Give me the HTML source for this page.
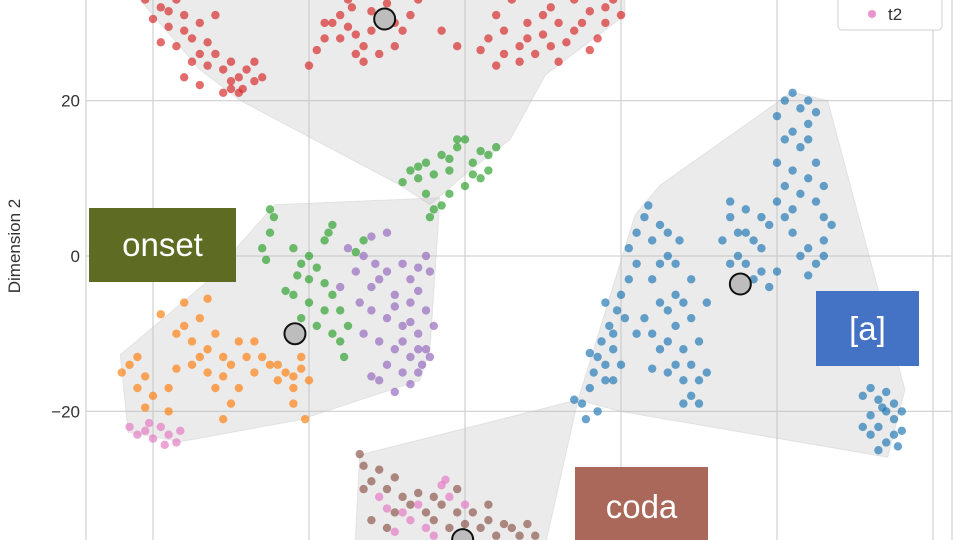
<!DOCTYPE html>
<html><head><meta charset="utf-8">
<style>
html,body{margin:0;padding:0;background:#fff;}
svg{display:block;font-family:"Liberation Sans",sans-serif;}
.box{position:absolute;color:#fff;font-family:"Liberation Sans",sans-serif;display:flex;align-items:center;justify-content:center;font-size:33px;}
</style></head>
<body>
<div style="position:relative;width:960px;height:540px;overflow:hidden">
<svg id="chart" width="960" height="540"></svg>
<div class="box" style="left:89px;top:208px;width:147px;height:74px;background:#5e6b22;">onset</div>
<div class="box" style="left:816px;top:291px;width:103px;height:75px;background:#4472c4;">[a]</div>
<div class="box" style="left:575px;top:467px;width:133px;height:80px;background:#a9685a;">coda</div>
</div>
<script>
const yTicks=[20,0,-20];
const yTickLabels=["20","0","\u221220"];
const xGrid=[-40,-20,0,20,40,60];
const red=[[-41,33],[-39,32],[-37,33],[-40,30.5],[-38,29.5],[-36,31],[-35,28],[-37,27],[-34,30],[-33,27.5],[-32,26],[-31,24],[-33,24.5],[-35,25],[-30,22.5],[-29,23],[-28,24],[-30,21.5],[-27,25],[-31,21],[-36,23],[-34,22],[-26,23],[-28.5,21.5],[-39,27.5],[-32,31],[-20,24.5],[-19,26.5],[-18,28],[-17,30],[-15,33],[-16,31],[-14,28.5],[-13,27],[-12,29],[-11,31],[-10,32.5],[-9,27],[-8,29],[-11,26],[-13,25],[-7,31],[-6,33],[-16,28],[-14.5,32],[2,26.5],[3,28],[4,31],[5,29],[6,33],[7,27],[8,30],[9,26],[10,28.5],[11,32],[12,30],[13,27.5],[14,33],[15,30],[16,31.5],[17,28],[18,32],[19,33],[20,31],[4,24.5],[7,25],[12,25],[-3,29],[-1,27],[-38,31.5],[-36,29],[-34,26],[-30,25],[-29,21],[-27,22.5],[-18,30],[-15,29.5],[-12,31.5],[-9,30],[-14,26],[5,26],[8,28],[11,27],[14,29],[16,26.5],[18,30],[10,31]];
const green=[[-7,11],[-6,10],[-5,12],[-4,10.5],[-3,13],[-2,11],[-1,14],[0,15],[1,12],[2,10],[3,13],[4,14],[-8,9.5],[-5,8],[-4,6],[-3,6.5],[-4.5,5],[-2,8],[0,9],[1,10.5],[3,11],[-1,15],[-25,6],[-24.5,5],[-25,3],[-26,1],[-25.5,-0.5],[-22,1],[-21,-1],[-21.5,-2.5],[-20,0],[-18,2],[-17,4],[-17.5,3],[-19,-1.5],[-22,-5],[-20,-6],[-18,-7],[-17,-5],[-19,-9],[-17,-10],[-16,-11],[-21,-8],[-15,-9],[-23,-4.5],[-14,0.5],[-13,2],[-15.5,-13],[-6,11.5],[-2,12.5],[2,13.5],[-20,-3],[-18,-3.5],[-16,-7]];
const purple=[[-15,1],[-13,0],[-12,2.5],[-11.5,-1],[-14,-2],[-12,-4],[-10,-2],[-8,-1],[-7,-3],[-6,-1.5],[-5,0],[-4.5,-2],[-9,-5],[-7,-6],[-5,-7],[-4,-9],[-6,-10],[-8,-9],[-10,-8],[-12,-7],[-13,-10],[-11,-11],[-9,-12],[-7,-13],[-5,-12],[-4.5,-13],[-6,-15],[-8,-15],[-10,-14],[-11,-16],[-12,-15.5],[-9,-17.5],[-7,-16.5],[-5.5,-14],[-13.5,-6],[-16,-4],[-10,3],[-7,-8.5],[-11,-3],[-9,-6.5],[-6,-4.5],[-8,-11],[-6,-12]];
const orange=[[-39,-7.5],[-37,-10],[-36,-9],[-34,-8],[-35,-11],[-33,-12],[-32,-10],[-31,-13],[-30,-14],[-29,-11],[-28,-13],[-27,-15],[-26,-13],[-25,-14],[-33,-15],[-35,-14],[-37,-14.5],[-42,-13],[-43,-14],[-44,-15],[-41,-15.5],[-42,-17],[-40,-18],[-41,-19.5],[-38,-20],[-38,-17],[-32,-17],[-30,-19],[-31,-21],[-29,-17],[-27,-11],[-24,-16],[-23,-15],[-22,-17],[-21,-14.5],[-20,-16],[-22,-19],[-21,-13],[-33,-5.5],[-36,-6],[-20.5,-21],[-34,-13],[-31,-15.5],[-24,-14],[-22,-15.5]];
const pink=[[-43,-22],[-42,-23],[-41,-22.5],[-40,-23.5],[-39,-22],[-38,-23],[-37,-24],[-36.5,-22.5],[-40.5,-21.5],[-38.5,-24.3],[-11,-31],[-10,-32.5],[-8,-33],[-7,-34],[-6,-32],[-5,-35],[-3,-29.5],[-2,-31],[-4,-36],[-1,-36],[-9,-35.5],[-2.5,-28.8],[0,-32]];
const blue=[[14,-18.5],[15,-19],[15.5,-21],[16,-17],[17,-20],[16.5,-15],[17,-13],[18,-14],[17.5,-11],[18.5,-9],[19,-10],[19.5,-7],[20,-5],[20.5,-8],[21,-3],[19,-12],[16,-12.5],[18,-16],[20,-14],[22,-1],[21,1],[22,3],[23,5],[23.5,6.5],[24,2],[25,4],[26,3],[26,0],[25,-1],[27,-1],[27.5,2],[24,-3],[23,-8],[24,-10],[25,-12],[26,-11],[27,-9],[28,-6],[29,-8],[28,-12],[27,-14],[29,-14],[30,-16],[29,-18],[28,-19],[30,-19],[26,-15],[25,-6],[30,-11],[31,-6],[29,-3],[27,-5],[24,-14.5],[31,-15],[34,5],[35,3],[36,6],[35,0],[36,-1],[37,2],[38,1],[38,-2],[39,-4],[37,-3],[34,-1],[33,2],[39,4],[40,-2],[34,7],[40,18],[41,20],[42,21],[43,19],[44,20],[45,18.5],[42,16],[43,14],[44,15],[45,12],[44,10],[43,8],[42,11],[41,9],[40,7],[41,5],[42,3],[43,0],[44,1],[45,-1],[46,2],[46,5],[47,4],[45,7],[44,-2.5],[46,9],[40,12],[51,-18],[52,-17],[53,-18.5],[54,-17.5],[55,-19],[56,-20],[55,-21],[54,-20],[53,-22],[52,-20.5],[55,-23],[56,-22.5],[54,-24],[53,-25],[52,-23],[51,-22],[55.5,-24.5],[53.5,-19.5],[19,-16],[18,-6],[22,-10],[26,-7],[28,-16],[41,15],[44,17],[42,6],[46,0],[36,3],[38,5]];
const brown=[[-13.5,-25.5],[-13,-27],[-12,-29],[-13,-30],[-11,-27.5],[-10,-30],[-9,-28.5],[-8,-31],[-9,-33],[-7,-32],[-6,-30.5],[-5,-33],[-4,-34],[-3,-32],[-2,-35],[-1,-33],[0,-34.5],[1,-33],[2,-35],[3,-34],[4,-36],[5,-34.5],[6,-35],[7,-36],[8,-34.5],[-4,-31],[-1,-30],[-12,-34],[-10,-35],[3,-32],[9,-36]];
const centroids=[[-10.3,30.5],[-21.8,-10],[35.3,-3.6],[-0.3,-36.5]];
const hullTop=[[-41.7,34.2],[-41.7,33],[-34,24],[-28.8,20],[-8.3,9.1],[-4.5,6.6],[0.6,11],[5.8,15],[10.3,23.3],[20.5,31],[20.5,34.2]];
const hullOnset=[[-24.4,6.6],[-3.2,7.5],[-4.5,-12.1],[-5.8,-16],[-21.2,-21.1],[-36.5,-23.9],[-43.2,-22.7],[-44.2,-12.7],[-33.3,-3.5]];
const hullVowel=[[14.5,-18.5],[21.8,5.3],[25,9.1],[41.9,21.1],[46.5,20],[56.4,-17.2],[54.2,-25.9],[19.9,-20]];
const hullCoda=[[-13.5,-25.6],[14.5,-18.5],[10.3,-37.2],[-14.1,-37.2]];

const NS="http://www.w3.org/2000/svg";
const svg=document.getElementById('chart');
const L=86,R=952;
const sx=v=>465+v*7.8;
const sy=v=>256-v*7.77;
function mk(t,a,p){const e=document.createElementNS(NS,t);for(const k in a)e.setAttribute(k,a[k]);(p||svg).appendChild(e);return e;}
const defs=mk('defs',{});
const cp=mk('clipPath',{id:'clip'},defs);
mk('rect',{x:L,y:0,width:R-L,height:540},cp);
const grid=mk('g',{});


yTicks.forEach(t=>{const l=mk('line',{x1:L,x2:R,y1:sy(t),y2:sy(t),stroke:'#d4d4d4','stroke-width':1.3},grid);

});
xGrid.forEach(t=>{const l=mk('line',{x1:sx(t),x2:sx(t),y1:0,y2:540,stroke:'#d4d4d4','stroke-width':1.3},grid);

});
const frame=mk('rect',{x:L,y:-2,width:R-L,height:544,fill:'none',stroke:'#d4d4d4','stroke-width':1.3});


const plot=mk('g',{'clip-path':'url(#clip)'});
[[hullTop,'hull-top'],[hullOnset,'hull-onset'],[hullVowel,'hull-vowel'],[hullCoda,'hull-coda']].forEach(([h,n])=>{
const p=mk('polygon',{points:h.map(q=>sx(q[0])+','+sy(q[1])).join(' '),fill:'rgba(190,190,190,0.3)',stroke:'rgba(190,190,190,0.3)'},plot);

});
const series=[[red,'#d62728','red'],[green,'#2ca02c','green'],[purple,'#9467bd','purple'],[orange,'#ff7f0e','orange'],[blue,'#1f77b4','blue'],[brown,'#8c564b','brown'],[pink,'#e377c2','pink']];
series.forEach(([arr,c,n])=>{const g=mk('g',{fill:c,'fill-opacity':0.68},plot);


arr.forEach(q=>{const d=mk('circle',{cx:sx(q[0]),cy:sy(q[1]),r:4.2},g);

});});
centroids.forEach(q=>{const c=mk('circle',{cx:sx(q[0]),cy:sy(q[1]),r:10.5,fill:'#bdbdbd',stroke:'#111','stroke-width':2},plot);

});
yTicks.forEach((t,i)=>{const tx=mk('text',{x:80,y:sy(t)+6,'text-anchor':'end','font-size':17,fill:'#333'});tx.textContent=yTickLabels[i];

});
const yt=mk('text',{x:20,y:246,'text-anchor':'middle','font-size':17,fill:'#333',transform:'rotate(-90 20 246)'});
yt.textContent='Dimension 2';


const lg=mk('g',{});


mk('rect',{x:838,y:-6,width:104,height:36,rx:4,fill:'#fff',stroke:'#d0d0d0'},lg);
const ld=mk('circle',{cx:872,cy:14,r:4,fill:'#e377c2','fill-opacity':0.8},lg);


const lt=mk('text',{x:888,y:20,'font-size':17,fill:'#333'},lg);lt.textContent='t2';


</script>
</body></html>
